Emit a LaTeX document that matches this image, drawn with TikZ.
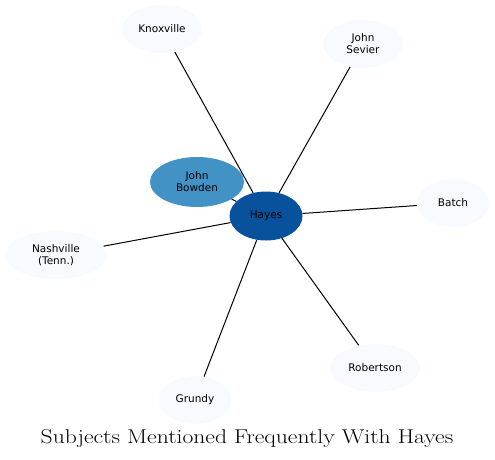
\documentclass[tikz,border=0pt]{standalone}
\usepackage{fontspec}
\usepackage{graphicx}
\newfontfamily\labelfont{DejaVu Sans}
\usetikzlibrary{shapes.geometric}
\definecolor{hub}{RGB}{8,81,156}
\definecolor{mid}{RGB}{66,146,198}
\definecolor{pale}{RGB}{247,251,255}
\tikzset{
  ent/.style={ellipse, inner sep=0pt, align=center, font=\labelfont\fontsize{10.5}{12}\selectfont, text=black},
  palebox/.style={ent, fill=pale},
  link/.style={draw=black, line width=1pt}
}
\begin{document}
\begin{tikzpicture}[x=1pt,y=-1pt]
\useasboundingbox (0,0) rectangle (495,460);
\node[palebox, minimum width=80pt, minimum height=48pt] (knox) at (162,29) {Knoxville};
\node[palebox, minimum width=80pt, minimum height=48pt] (sevier) at (363,44) {John\\Sevier};
\node[palebox, minimum width=72pt, minimum height=48pt] (batch) at (453,203) {Batch};
\node[palebox, minimum width=102pt, minimum height=48pt] (nash) at (56,255) {Nashville\\(Tenn.)};
\node[palebox, minimum width=90pt, minimum height=48pt] (rob) at (375,368) {Robertson};
\node[palebox, minimum width=72pt, minimum height=48pt] (grundy) at (195,400) {Grundy};
\node[ent, fill=mid, minimum width=94pt, minimum height=50pt] (bowden) at (197,182) {John\\Bowden};
\node[ent, fill=hub, minimum width=73pt, minimum height=49pt] (hayes) at (266,216) {Hayes};
\foreach \n in {knox,sevier,batch,nash,rob,grundy,bowden}{
  \draw[link] (hayes) -- (\n);
}
\node[font=\fontsize{20}{24}\selectfont] (title) at (247,439) {\scalebox{1.18}[1]{Subjects Mentioned Frequently With Hayes}};
\end{tikzpicture}
\end{document}
